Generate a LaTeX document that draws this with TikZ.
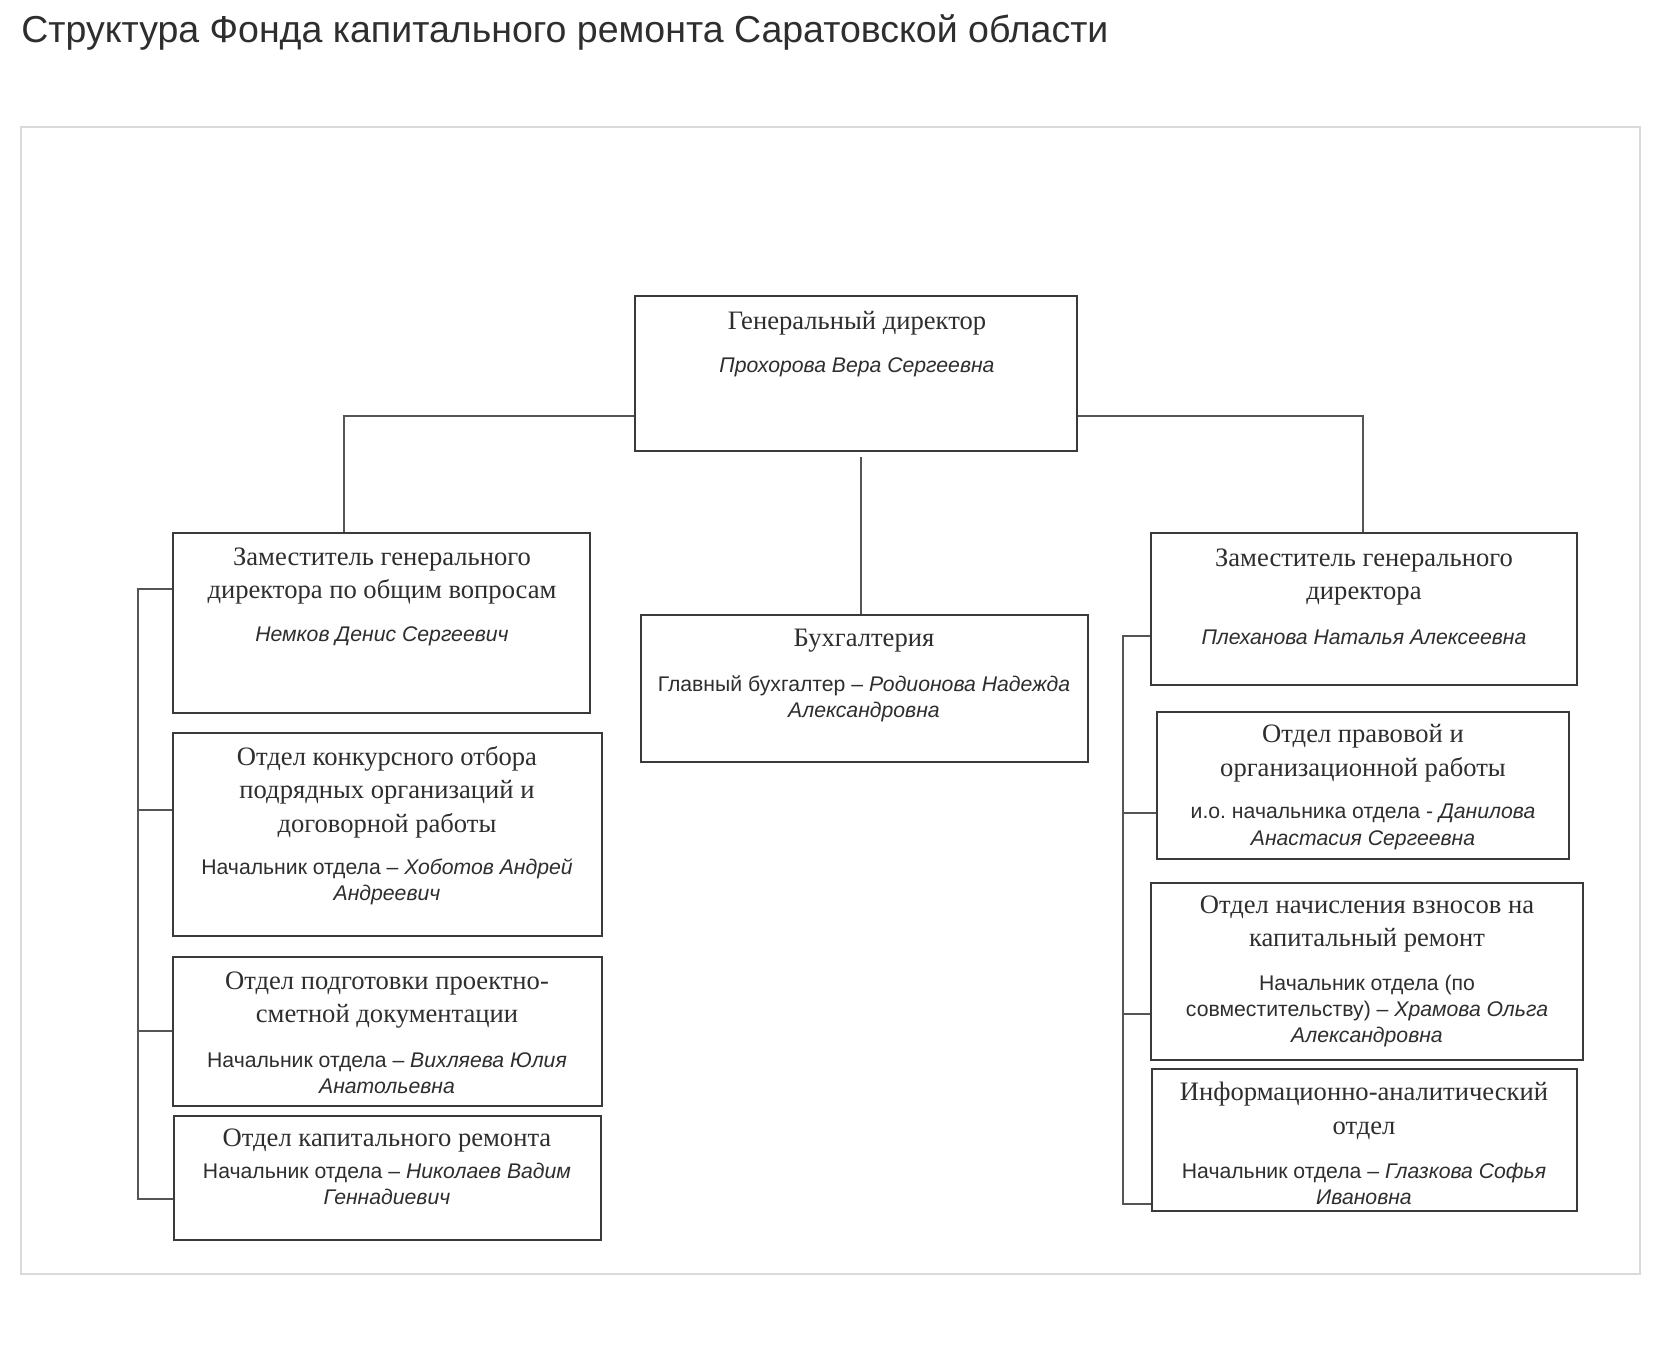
\documentclass[tikz,border=0pt]{standalone}
\usepackage{fontspec}
\setmainfont{Liberation Serif}
\setsansfont{Liberation Sans}
\usetikzlibrary{fit}
\frenchspacing
\definecolor{boxc}{HTML}{3A3A3A}
\definecolor{linec}{HTML}{555555}
\definecolor{txtc}{HTML}{2E2E2E}
\definecolor{framec}{HTML}{DADADA}
\tikzset{
  orgbox/.style={draw=boxc, line width=1.2pt, inner sep=0pt},
  conn/.style={draw=linec, line width=1pt},
  headtxt/.style={font=\fontsize{13.3}{16.8}\selectfont\rmfamily, text=txtc, align=center, inner sep=0pt, yshift=-1pt},
  persontxt/.style={font=\fontsize{10.6}{13.2}\selectfont\sffamily, text=txtc, align=center, inner sep=0pt, yshift=-1pt},
  titletxt/.style={font=\fontsize{18.75}{22}\selectfont\sffamily, text=txtc, anchor=west, inner sep=0pt},
}
\begin{document}
\begin{tikzpicture}[x=0.5pt,y=-0.5pt]
\useasboundingbox (0,0) rectangle (1654,1345);
\fill[white] (0,0) rectangle (1654,1345);
% title and frame
\node[titletxt] (title) at (21,32) {Структура Фонда капитального ремонта Саратовской области};
\node[draw=framec, line width=0.8pt, inner sep=0pt, fit={(21,127) (1640,1274)}] (frame) {};
% boxes
\node[orgbox, fit={(635,296) (1077,451)}] (gd) {};
\node[orgbox, fit={(173,533) (590,713)}] (ld) {};
\node[orgbox, fit={(173,733) (602,936)}] (k2) {};
\node[orgbox, fit={(173,957) (602,1106)}] (k3) {};
\node[orgbox, fit={(174,1116) (601,1240)}] (k4) {};
\node[orgbox, fit={(641,615) (1088,762)}] (buh) {};
\node[orgbox, fit={(1151,533) (1577,685)}] (rd) {};
\node[orgbox, fit={(1157,712) (1569,859)}] (pr) {};
\node[orgbox, fit={(1151,883) (1583,1060)}] (na) {};
\node[orgbox, fit={(1152,1069) (1577,1211)}] (inf) {};
% texts
\node[headtxt] (gdh) at (857,321) {Генеральный директор};
\node[persontxt] (gdp) at (857,365) {\itshape Прохорова Вера Сергеевна};
\node[headtxt] (ldh) at (382,574) {Заместитель генерального\\директора по общим вопросам};
\node[persontxt] (ldp) at (382,634) {\itshape Немков Денис Сергеевич};
\node[headtxt] (k2h) at (387,790) {Отдел конкурсного отбора\\подрядных организаций и\\договорной работы};
\node[persontxt] (k2p) at (387,880) {Начальник отдела – \textit{Хоботов Андрей}\\\textit{Андреевич}};
\node[headtxt] (k3h) at (387,998) {Отдел подготовки проектно-\\сметной документации};
\node[persontxt] (k3p) at (387,1071) {Начальник отдела – \textit{Вихляева Юлия}\\\textit{Анатольевна}};
\node[headtxt] (k4h) at (387,1139) {Отдел капитального ремонта};
\node[persontxt] (k4p) at (387,1182) {Начальник отдела – \textit{Николаев Вадим}\\\textit{Геннадиевич}};
\node[headtxt] (buhh) at (864,639) {Бухгалтерия};
\node[persontxt] (buhp) at (864,697) {Главный бухгалтер – \textit{Родионова Надежда}\\\textit{Александровна}};
\node[headtxt] (rdh) at (1364,575) {Заместитель генерального\\директора};
\node[persontxt] (rdp) at (1364,635) {\itshape Плеханова Наталья Алексеевна};
\node[headtxt] (prh) at (1363,751) {Отдел правовой и\\организационной работы};
\node[persontxt] (prp) at (1363,825) {и.о. начальника отдела - \textit{Данилова}\\\textit{Анастасия Сергеевна}};
\node[headtxt] (nah) at (1367,922) {Отдел начисления взносов на\\капитальный ремонт};
\node[persontxt] (nap) at (1367,1009) {Начальник отдела (по\\совместительству) – \textit{Храмова Ольга}\\\textit{Александровна}};
\node[headtxt] (infh) at (1364,1109) {Информационно-аналитический\\отдел};
\node[persontxt] (infp) at (1364,1182) {Начальник отдела – \textit{Глазкова Софья}\\\textit{Ивановна}};
% connector coordinates
\coordinate (jl) at (344,416);
\coordinate (jr) at (1363,416);
\coordinate (jc) at (861,457);
\coordinate (lbt) at (138,589);
\coordinate (lb2) at (138,810);
\coordinate (lb3) at (138,1031);
\coordinate (lb4) at (138,1199);
\coordinate (rbt) at (1123,636);
\coordinate (rb2) at (1123,813);
\coordinate (rb3) at (1123,1014);
\coordinate (rb4) at (1123,1204);
% connectors
\draw[conn] (gd.west |- jl) -| (jl |- ld.north);
\draw[conn] (gd.east |- jr) -| (jr |- rd.north);
\draw[conn] (jc) -- (jc |- buh.north);
\draw[conn] (lbt -| ld.west) -- (lbt) -- (lb4) -- (lb4 -| k4.west);
\draw[conn] (lb2) -- (lb2 -| k2.west);
\draw[conn] (lb3) -- (lb3 -| k3.west);
\draw[conn] (rbt -| rd.west) -- (rbt) -- (rb4) -- (rb4 -| inf.west);
\draw[conn] (rb2) -- (rb2 -| pr.west);
\draw[conn] (rb3) -- (rb3 -| na.west);
\end{tikzpicture}
\end{document}
